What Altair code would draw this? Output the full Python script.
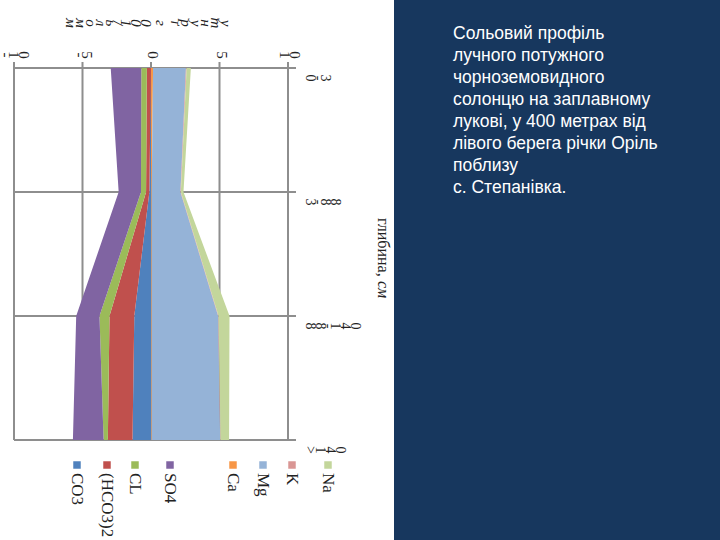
import altair as alt
import pandas as pd

# ---------------- data ----------------
depths = ["0-3", "3-88", "88-140", ">140"]
ions = ["CO3", "(HCO3)2", "CL", "SO4", "Ca", "Mg", "K", "Na"]
ion_colors = ["#4f81bd", "#c0504d", "#9bbb59", "#8064a2",
              "#f79646", "#95b3d7", "#d99694", "#c3d69b"]

# anions (drawn to the left, negative side)
co3 = [0.00, 0.12, 1.22, 1.35]
hco3 = [0.30, 0.24, 1.81, 1.80]
cl = [0.41, 0.37, 0.73, 0.31]
so4 = [2.23, 1.63, 1.70, 2.24]
# cations (drawn to the right, positive side)
ca = [0.15, 0.05, 0.05, 0.05]
mg = [2.40, 2.10, 4.85, 5.00]
k = [0.05, 0.03, 0.03, 0.03]
na = [0.31, 0.19, 0.80, 0.62]

value_ticks = [-10, -5, 0, 5, 10]
value_tick_labels = ["-10", "-5", "0", "5", "10"]
value_title = "ммоль/100 г ґрунту"
depth_title = "глибина,"
depth_unit = "см"
caption_lines = [
    "Сольовий профіль",
    "лучного потужного",
    "чорноземовидного",
    "солонцю на заплавному",
    "лукові, у 400 метрах від",
    "лівого берега річки Оріль",
    "поблизу",
    "с. Степанівка.",
]

# ---------------- layout constants ----------------
W, H = 274, 372
PAD = {"left": 14, "top": 68, "right": 720 - 14 - W, "bottom": 540 - 68 - H}
GRID = "#8e8e8e"
INK = "#222222"
legend_px = [63, 93, 121, 156, 219, 249, 278, 314]  # legend item centres (px)
GLYPH_STEP = 10   # spacing of rotated glyphs (px)
NARROW_STEP = 5   # spacing for thin glyphs such as "-" or space
TICK_SHIFT = 2    # tick labels sit slightly right of their grid line
PX_PER_UNIT = W / 20.0

series = {
    "CO3": (co3, -1, 1), "(HCO3)2": (hco3, -1, 2), "CL": (cl, -1, 3), "SO4": (so4, -1, 4),
    "Ca": (ca, 1, 1), "Mg": (mg, 1, 2), "K": (k, 1, 3), "Na": (na, 1, 4),
}
rows = []
for ion, (vals, sign, ordv) in series.items():
    for i, v in enumerate(vals):
        rows.append({"i": i, "depth": depths[i], "ion": ion, "value": sign * v, "ord": ordv})
df = pd.DataFrame(rows)


def glyph_rows(labels, keyname, keys, anchor="center"):
    """Split each label into glyphs (drawn rotated, laid out left-to-right)."""
    out = []
    for key, s in zip(keys, labels):
        steps = [NARROW_STEP if ch in "- /" else GLYPH_STEP for ch in s]
        centres, pos = [], 0.0
        for st in steps:
            centres.append(pos + st / 2)
            pos += st
        shift = -pos / 2 if anchor == "center" else -steps[0] / 2
        for ch, c in zip(s, centres):
            out.append({keyname: key, "ch": ch, "off": c + shift})
    return pd.DataFrame(out)


xscale = alt.Scale(domain=[-10, 10], nice=False, zero=False)
yscale = alt.Scale(domain=[0, 3], reverse=True, nice=False, zero=False)
cscale = alt.Scale(domain=ions, range=ion_colors)

one = pd.DataFrame({"a": [0]})

panel = alt.Chart(one).mark_rect(color="#17375e").encode(
    x=alt.value(380), x2=alt.value(720 - 14), y=alt.value(-68), y2=alt.value(540 - 68)
)

vgrid = alt.Chart(pd.DataFrame({"v": value_ticks})).mark_rule(color=GRID, strokeWidth=2).encode(
    x=alt.X("v:Q", scale=xscale, axis=None), y=alt.value(-6), y2=alt.value(H)
)
hgrid = alt.Chart(pd.DataFrame({"i": list(range(len(depths)))})).mark_rule(
    color=GRID, strokeWidth=2
).encode(
    y=alt.Y("i:Q", scale=yscale, axis=None), x=alt.value(0), x2=alt.value(W + 8)
)

areas = alt.Chart(df).mark_area(orient="horizontal", opacity=1).encode(
    y=alt.Y("i:Q", scale=yscale, axis=None),
    x=alt.X("value:Q", scale=xscale, axis=None, stack="zero"),
    color=alt.Color("ion:N", scale=cscale, legend=None),
    order=alt.Order("ord:Q"),
)

# value tick labels: glyph offsets converted to data units so the shared scale places them
vlab_df = glyph_rows(value_tick_labels, "v", value_ticks)
vlab_df["vx"] = vlab_df["v"] + (vlab_df["off"] + TICK_SHIFT) / PX_PER_UNIT
vlabels = alt.Chart(vlab_df).mark_text(
    angle=90, align="center", baseline="middle",
    font="Liberation Serif", fontSize=15, color=INK
).encode(x=alt.X("vx:Q", scale=xscale, axis=None), y=alt.value(-13), text="ch:N")

dlab_df = glyph_rows(depths, "i", list(range(len(depths))), anchor="left")
dlab_df["px"] = 296 + dlab_df["off"]
dlabels = alt.Chart(dlab_df).mark_text(
    angle=90, align="center", baseline="middle",
    font="Liberation Serif", fontSize=14, color=INK
).encode(y=alt.Y("i:Q", scale=yscale, axis=None),
         x=alt.X("px:Q", scale=None, axis=None),
         yOffset=alt.value(10), text="ch:N")

vt_df = glyph_rows([value_title], "k", [0])
vt_df["px"] = 134 + vt_df["off"]
vtitle = alt.Chart(vt_df).mark_text(
    angle=90, align="center", baseline="middle",
    font="Liberation Serif", fontSize=15, fontStyle="italic", color=INK
).encode(x=alt.X("px:Q", scale=None, axis=None), y=alt.value(-45), text="ch:N")

dtitle = alt.Chart(pd.DataFrame({"t": [depth_title]})).mark_text(
    angle=90, align="left", baseline="middle",
    font="Liberation Serif", fontSize=16, color=INK
).encode(x=alt.value(369), y=alt.value(150), text="t:N")
dunit = alt.Chart(pd.DataFrame({"t": [depth_unit]})).mark_text(
    angle=90, align="left", baseline="middle",
    font="Liberation Serif", fontSize=16, fontStyle="italic", color=INK
).encode(x=alt.value(369), y=alt.value(213), text="t:N")

leg_df = pd.DataFrame({"ion": ions, "lx": legend_px})
leg_sq = alt.Chart(leg_df).mark_square(size=56, opacity=1).encode(
    x=alt.X("lx:Q", scale=None, axis=None), y=alt.value(397),
    color=alt.Color("ion:N", scale=cscale, legend=None),
)
leg_tx = alt.Chart(leg_df).mark_text(
    angle=90, align="left", baseline="middle",
    font="Liberation Serif", fontSize=17, color=INK
).encode(x=alt.X("lx:Q", scale=None, axis=None), y=alt.value(405), text="ion:N")

caption = alt.Chart(pd.DataFrame({"t": ["\n".join(caption_lines)]})).mark_text(
    align="left", baseline="alphabetic", lineBreak="\n", lineHeight=22,
    font="Liberation Sans", fontSize=17.5, color="#ffffff"
).encode(x=alt.value(439), y=alt.value(-29), text="t:N")

chart = alt.layer(
    panel, vgrid, hgrid, areas, vlabels, dlabels, vtitle, dtitle, dunit,
    leg_sq, leg_tx, caption
).properties(
    width=W, height=H, padding=PAD,
    autosize=alt.AutoSizeParams(type="none"),
    background="#ffffff",
).configure_view(stroke=None)

chart.save("out.html", embed_options={"renderer": "svg", "actions": False})
